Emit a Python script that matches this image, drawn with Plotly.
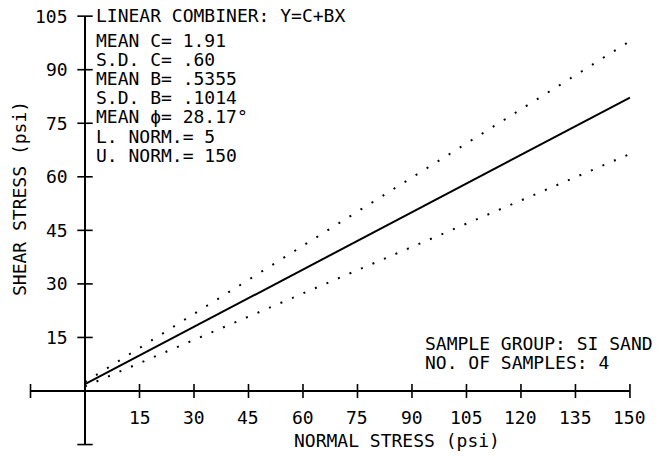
import plotly.graph_objects as go

# ---- data ----
x_line = [0, 150]
mean_line = [1.91, 82.2]     # Y = C + B X  (mean)
upper_line = [2.5, 98.0]     # upper bound (dotted)
lower_line = [1.3, 66.4]     # lower bound (dotted)

x_ticks = [15, 30, 45, 60, 75, 90, 105, 120, 135, 150]
y_ticks = [15, 30, 45, 60, 75, 90, 105]
x_axis_ends = [-15, 150]
y_axis_ends = [-15, 105]

x_tick_labels = ["15", "30", "45", "60", "75", "90", "105", "120", "135", "150"]
y_tick_labels = ["15", "30", "45", "60", "75", "90", "105"]

stats_title = "LINEAR COMBINER: Y=C+BX"
stats_lines = [
    "MEAN C= 1.91",
    "S.D. C= .60",
    "MEAN B= .5355",
    "S.D. B= .1014",
    "MEAN ϕ= 28.17°",
    "L. NORM.= 5",
    "U. NORM.= 150",
]
sample_lines = ["SAMPLE GROUP: SI SAND", "NO. OF SAMPLES: 4"]
x_title = "NORMAL STRESS (psi)"
y_title = "SHEAR STRESS (psi)"

# ---- layout geometry (page pixels; body margin removed below) ----
W, H = 666, 456
X0_PX, PX_PER_X = 85.0, 3.633
Y0_PX, PX_PER_Y = 391.0, 3.57
x_range = [-X0_PX / PX_PER_X, (W - X0_PX) / PX_PER_X]
y_range = [-(H - Y0_PX) / PX_PER_Y, Y0_PX / PX_PER_Y]

FONT = "DejaVu Sans Mono"
FS = 18
BLACK = "#000000"


def paper(px, py):
    return px / W, 1 - py / H


fig = go.Figure()

# axes drawn as cross-shaped lines
fig.add_trace(go.Scatter(x=x_axis_ends, y=[0, 0], mode="lines",
                         line=dict(color=BLACK, width=2), hoverinfo="skip"))
fig.add_trace(go.Scatter(x=[0, 0], y=y_axis_ends, mode="lines",
                         line=dict(color=BLACK, width=2), hoverinfo="skip"))
# tick marks
fig.add_trace(go.Scatter(x=x_axis_ends[:1] + x_ticks, y=[0] * (len(x_ticks) + 1),
                         mode="markers",
                         marker=dict(symbol="line-ns", size=10,
                                     line=dict(color=BLACK, width=1.6)),
                         hoverinfo="skip"))
fig.add_trace(go.Scatter(x=[0] * (len(y_ticks) + 1), y=y_axis_ends[:1] + y_ticks,
                         mode="markers",
                         marker=dict(symbol="line-ew", size=11,
                                     line=dict(color=BLACK, width=1.6)),
                         hoverinfo="skip"))

# regression lines
fig.add_trace(go.Scatter(x=x_line, y=upper_line, mode="lines",
                         line=dict(color=BLACK, width=2, dash="2px,11px")))
fig.add_trace(go.Scatter(x=x_line, y=lower_line, mode="lines",
                         line=dict(color=BLACK, width=2, dash="2px,10.5px")))
fig.add_trace(go.Scatter(x=x_line, y=mean_line, mode="lines",
                         line=dict(color=BLACK, width=2)))

ann = []
font = dict(family=FONT, size=FS, color=BLACK)
for v, t in zip(x_ticks, x_tick_labels):
    ann.append(dict(x=v, y=0, xref="x", yref="y", text=t, showarrow=False,
                    xanchor="center", yanchor="middle", yshift=-26, font=font))
for v, t in zip(y_ticks, y_tick_labels):
    ann.append(dict(x=0, y=v, xref="x", yref="y", text=t, showarrow=False,
                    xanchor="right", yanchor="middle", xshift=-15, font=font))

px0, py0 = paper(94, 15)
ann.append(dict(x=px0, y=py0, xref="paper", yref="paper", text=stats_title,
                showarrow=False, xanchor="left", yanchor="middle", font=font))
for i, t in enumerate(stats_lines):
    px, py = paper(94, 40 + 19.2 * i)
    ann.append(dict(x=px, y=py, xref="paper", yref="paper", text=t,
                    showarrow=False, xanchor="left", yanchor="middle", font=font))
for i, t in enumerate(sample_lines):
    px, py = paper(423, 343 + 19 * i)
    ann.append(dict(x=px, y=py, xref="paper", yref="paper", text=t,
                    showarrow=False, xanchor="left", yanchor="middle", font=font))

px, py = paper(397, 440)
ann.append(dict(x=px, y=py, xref="paper", yref="paper", text=x_title,
                showarrow=False, xanchor="center", yanchor="middle", font=font))
px, py = paper(19, 199)
ann.append(dict(x=px, y=py, xref="paper", yref="paper", text=y_title,
                showarrow=False, xanchor="center", yanchor="middle",
                textangle=-90, font=font))

fig.update_layout(
    width=W, height=H,
    margin=dict(l=0, r=0, t=0, b=0, pad=0),
    paper_bgcolor="white", plot_bgcolor="white",
    showlegend=False,
    hovermode=False,
    xaxis=dict(range=x_range, visible=False, fixedrange=True),
    yaxis=dict(range=y_range, visible=False, fixedrange=True),
    annotations=ann,
    font=font,
)

fig.write_html(
    "out.html",
    config={"displayModeBar": False, "staticPlot": True},
    post_script="document.body.style.margin='0';document.body.style.overflow='hidden';",
)
